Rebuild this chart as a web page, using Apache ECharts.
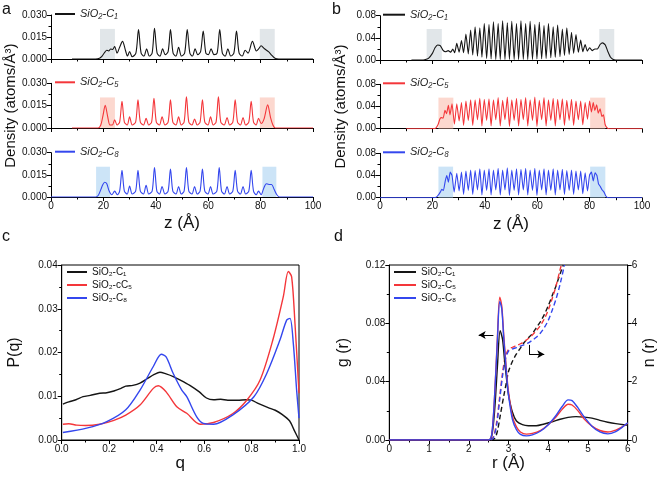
<!DOCTYPE html>
<html><head><meta charset="utf-8">
<script src="https://cdn.jsdelivr.net/npm/echarts@6/dist/echarts.min.js"></script>
<style>html,body{margin:0;padding:0;background:#fff}#c{width:661px;height:481px}</style>
</head><body><div id="c"></div>
<script>
// ---------- DATA ----------
// Panel a: density profiles, [z (Å), density]
const aC1 = [[8,0],[17,0],[18.5,0.0005],[19.5,0.002],[20.5,0.0045],[21.3,0.006],[22.0,0.0055],[22.8,0.0068],[23.5,0.0065],[24.3,0.0085],[25.2,0.004],[26.2,0.008],[27.3,0.012],[28.4,0.006],[29.2,0.002],[30.0,0.005],[31.0,0.0015],[32.4,0.004],[33.4,0.020],[34.4,0.004],[35.5,0.002],[36.5,0.007],[37.5,0.002],[38.6,0.004],[39.5,0.021],[40.5,0.004],[41.6,0.002],[42.6,0.007],[43.6,0.003],[44.7,0.005],[45.6,0.020],[46.6,0.004],[47.7,0.002],[48.7,0.008],[49.8,0.002],[51.0,0.004],[52.0,0.020],[53.0,0.004],[54.0,0.002],[55.0,0.007],[56.0,0.003],[57.1,0.005],[58.1,0.019],[59.1,0.004],[60.1,0.003],[61.1,0.007],[62.2,0.003],[63.4,0.004],[64.4,0.020],[65.4,0.004],[66.5,0.002],[67.5,0.007],[68.6,0.002],[69.8,0.004],[70.8,0.019],[71.8,0.004],[73.0,0.002],[74.1,0.006],[75.2,0.004],[76.9,0.012],[78.4,0.0055],[79.3,0.007],[80.2,0.009],[81.5,0.007],[83.0,0.005],[84.3,0.0025],[85.5,0.0005],[87,0],[100,0]];
const aC5 = [[8,0],[18,0],[19,0.002],[19.8,0.008],[20.7,0.0152],[21.6,0.008],[22.5,0.002],[23.4,0.002],[24.3,0.0055],[25.2,0.002],[26.2,0.004],[27.1,0.018],[28.0,0.004],[29.1,0.002],[30.0,0.0075],[31.0,0.002],[32.3,0.004],[33.2,0.019],[34.1,0.004],[35.3,0.002],[36.3,0.0065],[37.3,0.002],[38.4,0.004],[39.3,0.020],[40.2,0.004],[41.4,0.002],[42.4,0.0075],[43.5,0.002],[44.7,0.004],[45.6,0.019],[46.5,0.004],[47.7,0.002],[48.7,0.0075],[49.7,0.002],[50.8,0.004],[51.7,0.021],[52.6,0.004],[53.8,0.002],[54.8,0.006],[55.8,0.002],[56.9,0.004],[57.8,0.019],[58.7,0.004],[59.9,0.002],[60.9,0.0075],[61.9,0.002],[63.0,0.004],[63.9,0.021],[64.8,0.004],[66.1,0.002],[67.2,0.007],[68.2,0.002],[69.4,0.004],[70.3,0.019],[71.2,0.004],[72.3,0.002],[73.3,0.007],[74.3,0.002],[75.5,0.004],[76.4,0.018],[77.3,0.004],[78.3,0.002],[79.2,0.0065],[80.2,0.003],[81.3,0.006],[82.7,0.0155],[83.8,0.007],[84.7,0.002],[85.6,0],[100,0]];
const aC8 = [[0,0],[17,0],[18,0.001],[19,0.005],[19.8,0.0085],[20.5,0.010],[21.3,0.009],[22.2,0.004],[23.2,0.0015],[24.3,0.004],[25.3,0.0015],[26.2,0.004],[27.1,0.018],[28.0,0.004],[29.1,0.002],[30.0,0.0075],[31.0,0.002],[32.3,0.004],[33.2,0.018],[34.1,0.004],[35.3,0.002],[36.3,0.008],[37.3,0.002],[38.6,0.004],[39.5,0.020],[40.4,0.004],[41.4,0.002],[42.4,0.007],[43.5,0.002],[44.7,0.004],[45.6,0.019],[46.5,0.004],[47.7,0.002],[48.7,0.007],[49.7,0.002],[50.8,0.004],[51.7,0.020],[52.6,0.004],[53.8,0.002],[54.8,0.007],[55.8,0.002],[56.9,0.004],[57.8,0.019],[58.7,0.004],[59.9,0.002],[60.9,0.007],[61.9,0.002],[63.3,0.004],[64.2,0.020],[65.1,0.004],[66.2,0.002],[67.2,0.007],[68.2,0.002],[69.4,0.004],[70.3,0.018],[71.2,0.004],[72.3,0.002],[73.3,0.007],[74.3,0.002],[75.5,0.004],[76.4,0.018],[77.3,0.004],[78.3,0.0015],[79.2,0.004],[80.2,0.0015],[81.2,0.006],[82.2,0.009],[83.2,0.0085],[84.2,0.0085],[85.2,0.005],[86.2,0.0015],[87.2,0],[100,0]];
// Panel b: density profiles, [z (Å), density]
const bC1 = [[12,0],[16,0],[17,0.0005],[18.5,0.003],[20,0.012],[21,0.022],[22,0.027],[23,0.026],[24,0.018],[25,0.015],[26,0.017],[27,0.014],[27.8,0.02],[28.5,0.013],[29.3,0.030],[30.2,0.014],[31.1,0.035],[31.9,0.013],[32.8,0.047],[33.7,0.011],[34.6,0.054],[35.4,0.009],[36.3,0.060],[37.2,0.007],[38.1,0.058],[38.9,0.005],[39.8,0.066],[40.7,0.003],[41.6,0.064],[42.4,0.002],[43.3,0.069],[44.2,0.001],[45.1,0.066],[45.9,0.001],[46.8,0.071],[47.7,0.001],[48.6,0.067],[49.4,0.001],[50.3,0.070],[51.2,0.001],[52.1,0.066],[52.9,0.001],[53.8,0.071],[54.7,0.001],[55.6,0.066],[56.4,0.001],[57.3,0.070],[58.2,0.001],[59.1,0.064],[59.9,0.002],[60.8,0.068],[61.7,0.002],[62.6,0.062],[63.4,0.003],[64.3,0.066],[65.2,0.004],[66.1,0.060],[66.9,0.005],[67.8,0.063],[68.7,0.006],[69.6,0.056],[70.4,0.008],[71.3,0.058],[72.2,0.010],[73.1,0.050],[73.9,0.012],[74.8,0.046],[75.7,0.014],[76.6,0.036],[77.4,0.015],[78.3,0.028],[79.1,0.016],[80,0.022],[81,0.017],[82,0.020],[83,0.020],[84,0.028],[85,0.031],[86,0.027],[87,0.015],[88,0.005],[89,0.001],[90,0],[100,0]];
const bC5 = [[10,0],[20,0],[21.3,0.001],[22.2,0.008],[22.9,0.018],[23.5,0.020],[24.1,0.019],[24.8,0.033],[25.4,0.027],[26.1,0.042],[26.7,0.025],[27.5,0.045],[28.4,0.008],[29.3,0.045],[30.2,0.014],[31.1,0.047],[31.9,0.006],[32.8,0.050],[33.7,0.015],[34.6,0.052],[35.4,0.006],[36.3,0.052],[37.2,0.016],[38.1,0.055],[38.9,0.005],[39.8,0.053],[40.7,0.015],[41.6,0.054],[42.4,0.005],[43.3,0.052],[44.2,0.016],[45.1,0.056],[45.9,0.005],[46.8,0.051],[47.7,0.016],[48.6,0.057],[49.4,0.004],[50.3,0.052],[51.2,0.015],[52.1,0.055],[52.9,0.005],[53.8,0.053],[54.7,0.016],[55.6,0.056],[56.4,0.005],[57.3,0.052],[58.2,0.015],[59.1,0.057],[59.9,0.004],[60.8,0.051],[61.7,0.016],[62.6,0.056],[63.4,0.005],[64.3,0.052],[65.2,0.015],[66.1,0.055],[66.9,0.005],[67.8,0.053],[68.7,0.016],[69.6,0.054],[70.4,0.006],[71.3,0.051],[72.2,0.015],[73.1,0.053],[73.9,0.006],[74.8,0.050],[75.7,0.016],[76.6,0.050],[77.4,0.007],[78.3,0.047],[79.2,0.017],[80.0,0.050],[80.7,0.030],[81.4,0.047],[82.0,0.033],[82.7,0.043],[83.3,0.028],[84.0,0.036],[84.7,0.022],[85.3,0.025],[85.9,0.008],[86.6,0.002],[87.5,0],[100,0]];
const bC8 = [[0,0],[20.5,0],[21.5,0.001],[22.3,0.005],[23.0,0.010],[23.6,0.015],[24.2,0.013],[24.9,0.030],[25.5,0.040],[26.1,0.028],[26.8,0.046],[27.5,0.040],[28.3,0.010],[29.3,0.044],[30.2,0.012],[31.1,0.046],[31.9,0.006],[32.8,0.048],[33.7,0.013],[34.6,0.050],[35.4,0.006],[36.3,0.049],[37.2,0.014],[38.1,0.052],[38.9,0.005],[39.8,0.050],[40.7,0.013],[41.6,0.052],[42.4,0.005],[43.3,0.050],[44.2,0.014],[45.1,0.053],[45.9,0.005],[46.8,0.050],[47.7,0.014],[48.6,0.054],[49.4,0.004],[50.3,0.050],[51.2,0.013],[52.1,0.052],[52.9,0.005],[53.8,0.051],[54.7,0.014],[55.6,0.053],[56.4,0.005],[57.3,0.050],[58.2,0.013],[59.1,0.053],[59.9,0.004],[60.8,0.050],[61.7,0.014],[62.6,0.052],[63.4,0.005],[64.3,0.050],[65.2,0.013],[66.1,0.052],[66.9,0.005],[67.8,0.050],[68.7,0.014],[69.6,0.051],[70.4,0.006],[71.3,0.049],[72.2,0.013],[73.1,0.050],[73.9,0.006],[74.8,0.048],[75.7,0.014],[76.6,0.048],[77.4,0.007],[78.3,0.045],[79.2,0.012],[80.0,0.041],[80.7,0.046],[81.4,0.030],[82.1,0.045],[82.8,0.040],[83.4,0.025],[84.1,0.020],[84.8,0.014],[85.5,0.010],[86.2,0.003],[87,0],[100,0]];
// Shaded interface regions [zStart, zEnd] and their top value
const aShade = [[[18.7,24.4],[79.7,85.4]], [[18.7,24.4],[79.7,85.4]], [[17.2,22.5],[80.7,86.0]]];
const aShadeTop = 0.0205;
const bShade = [[[17.8,23.6],[83.7,89.4]], [[22.3,28.0],[80.2,86.0]], [[22.3,27.9],[80.2,86.0]]];
const bShadeTop = 0.056;
// Panel c: P(q), [q, P]
const cC1 = [[0.005,0.0082],[0.03,0.0087],[0.06,0.0092],[0.09,0.0099],[0.12,0.0102],[0.16,0.0107],[0.19,0.0108],[0.22,0.0112],[0.25,0.0118],[0.27,0.0123],[0.3,0.0125],[0.33,0.013],[0.36,0.014],[0.39,0.015],[0.414,0.0155],[0.44,0.0151],[0.47,0.0145],[0.5,0.0137],[0.54,0.0125],[0.58,0.011],[0.61,0.0096],[0.64,0.0092],[0.67,0.0093],[0.7,0.0091],[0.74,0.0091],[0.78,0.0092],[0.8,0.0091],[0.83,0.0083],[0.87,0.0074],[0.9,0.0068],[0.93,0.0058],[0.96,0.0044],[0.98,0.0022],[1.0,0.0]];
const cC5 = [[0.005,0.0036],[0.03,0.0037],[0.063,0.0034],[0.1,0.0033],[0.16,0.0036],[0.22,0.0045],[0.27,0.0057],[0.33,0.008],[0.386,0.0118],[0.407,0.0124],[0.44,0.011],[0.485,0.0076],[0.527,0.0061],[0.583,0.0036],[0.64,0.004],[0.72,0.006],[0.78,0.0091],[0.836,0.0137],[0.89,0.0229],[0.934,0.0328],[0.955,0.0385],[0.969,0.0373],[0.983,0.0267],[1.0,0.0107]];
const cC8 = [[0.005,0.0017],[0.105,0.0027],[0.19,0.0042],[0.27,0.0069],[0.33,0.0114],[0.386,0.0168],[0.42,0.0196],[0.44,0.019],[0.47,0.0152],[0.506,0.0114],[0.527,0.0099],[0.569,0.0053],[0.597,0.0038],[0.64,0.0036],[0.72,0.0057],[0.81,0.0099],[0.864,0.0152],[0.92,0.0229],[0.948,0.0274],[0.962,0.0278],[0.976,0.0221],[0.99,0.0114],[1.0,0.005]];
// Panel d: g(r) and n(r), [r (Å), value]
const dG1 = [[0,0],[2.5,0],[2.58,0.003],[2.65,0.02],[2.72,0.05],[2.79,0.075],[2.85,0.069],[2.9,0.055],[2.95,0.042],[3.0,0.031],[3.1,0.019],[3.2,0.013],[3.35,0.0105],[3.5,0.0098],[3.7,0.0098],[3.9,0.011],[4.1,0.0125],[4.3,0.0142],[4.5,0.0155],[4.7,0.016],[4.9,0.0157],[5.1,0.015],[5.3,0.0135],[5.5,0.0122],[5.7,0.0112],[5.9,0.0105],[6.0,0.0103]];
const dG5 = [[0,0],[2.5,0],[2.58,0.004],[2.65,0.03],[2.72,0.07],[2.78,0.098],[2.83,0.092],[2.88,0.072],[2.95,0.047],[3.0,0.033],[3.1,0.016],[3.2,0.009],[3.3,0.0055],[3.45,0.004],[3.6,0.0045],[3.8,0.0065],[4.0,0.0105],[4.2,0.016],[4.35,0.021],[4.5,0.0245],[4.6,0.024],[4.75,0.02],[4.9,0.0145],[5.1,0.0095],[5.3,0.0065],[5.5,0.0055],[5.7,0.0068],[5.85,0.0088],[6.0,0.0115]];
const dG8 = [[0,0],[2.5,0],[2.58,0.004],[2.65,0.03],[2.72,0.068],[2.78,0.095],[2.83,0.09],[2.88,0.07],[2.95,0.045],[3.0,0.031],[3.1,0.014],[3.2,0.007],[3.3,0.0038],[3.45,0.0028],[3.6,0.0035],[3.8,0.006],[4.0,0.0105],[4.2,0.017],[4.35,0.023],[4.5,0.0275],[4.6,0.027],[4.75,0.022],[4.9,0.016],[5.1,0.0095],[5.3,0.0055],[5.5,0.0042],[5.7,0.0058],[5.85,0.0085],[6.0,0.0118]];
const dN1 = [[2.55,0],[2.65,0.05],[2.72,0.3],[2.8,0.9],[2.88,1.5],[2.95,2.0],[3.0,2.35],[3.1,2.7],[3.2,2.95],[3.3,3.15],[3.4,3.35],[3.5,3.5],[3.6,3.65],[3.7,3.85],[3.8,4.05],[3.9,4.3],[4.0,4.6],[4.1,4.95],[4.2,5.3],[4.3,5.7],[4.38,6.0]];
const dN5 = [[2.55,0],[2.62,0.1],[2.7,0.6],[2.78,1.5],[2.85,2.3],[2.92,2.85],[3.0,3.1],[3.1,3.18],[3.2,3.24],[3.3,3.3],[3.4,3.38],[3.5,3.48],[3.6,3.6],[3.7,3.75],[3.8,3.92],[3.9,4.15],[4.0,4.45],[4.1,4.85],[4.2,5.3],[4.3,5.85],[4.33,6.0]];
const dN8 = [[2.55,0],[2.62,0.08],[2.7,0.5],[2.78,1.4],[2.85,2.2],[2.92,2.75],[3.0,3.05],[3.1,3.12],[3.2,3.17],[3.3,3.22],[3.4,3.27],[3.5,3.33],[3.6,3.42],[3.7,3.52],[3.8,3.66],[3.9,3.85],[4.0,4.1],[4.1,4.45],[4.2,4.85],[4.3,5.35],[4.4,5.95],[4.41,6.0]];
// Labels
const abLabels = ['SiO₂-C₁', 'SiO₂-C₅', 'SiO₂-C₈'];
const cLabels = ['SiO₂-C₁', 'SiO₂-cC₅', 'SiO₂-C₈'];
const dLabels = ['SiO₂-C₁', 'SiO₂-C₅', 'SiO₂-C₈'];
const panelLetters = ['a', 'b', 'c', 'd'];

// ---------- STYLE ----------
const FONT = '"Liberation Sans", Arial, sans-serif';
const COLORS = ['#151515', '#f4363a', '#3447ee'];
const SHADES = ['rgba(195,205,212,0.5)', 'rgba(250,190,175,0.6)', 'rgba(170,210,242,0.6)'];

const gridPos = [
  {left:51, top:15, width:262, height:44},
  {left:51, top:83.3, width:262, height:44.7},
  {left:51, top:152.7, width:262, height:44.3},
  {left:380, top:15.7, width:262, height:44.3},
  {left:380, top:84.3, width:262, height:44.4},
  {left:380, top:153.3, width:262, height:44.4},
  {left:61.7, top:265, width:237.3, height:175},
  {left:389.3, top:265, width:238.4, height:175}
];

function axisCommon(showLabel, fmt) {
  return {
    axisLine: {show:true, onZero:false, lineStyle:{color:'#000', width:1}},
    axisTick: {show:true, length:4, lineStyle:{color:'#000'}},
    minorTick: {show:true, splitNumber:2, length:2.5, lineStyle:{color:'#000'}},
    splitLine: {show:false},
    axisLabel: {show:showLabel, fontSize:10, color:'#111', fontFamily:FONT, margin:4, formatter: fmt}
  };
}
const nameStyle = (fs) => ({fontSize:fs, color:'#111', fontFamily:FONT});

const grids = gridPos.map((g, i) => Object.assign({
  outerBoundsMode:'none', containLabel:false,
  show: i >= 6, borderColor:'#000', borderWidth:1, backgroundColor:'transparent'
}, g));

const xAxes = [], yAxes = [];
for (let i = 0; i < 6; i++) {
  const bottom = (i === 2 || i === 5);
  xAxes.push(Object.assign({type:'value', gridIndex:i, min:0, max:100, interval:20,
    name: bottom ? 'z (Å)' : '', nameLocation:'middle', nameGap:18, nameTextStyle:nameStyle(17)},
    axisCommon(bottom, v => String(v))));
  const isA = i < 3;
  yAxes.push(Object.assign({type:'value', gridIndex:i, min:0, max: isA ? 0.03 : 0.08, interval: isA ? 0.015 : 0.04,
    name: (i === 1 || i === 4) ? 'Density (atoms/Å³)' : '', nameLocation:'middle', nameGap: isA ? 33 : 32,
    nameTextStyle:nameStyle(15)},
    axisCommon(true, v => v.toFixed(isA ? 3 : 2))));
}
// panel c
xAxes.push(Object.assign({type:'value', gridIndex:6, min:0, max:1, interval:0.2, name:'q', nameLocation:'middle', nameGap:15, nameTextStyle:nameStyle(17)},
  axisCommon(true, v => v.toFixed(1))));
yAxes.push(Object.assign({type:'value', gridIndex:6, min:0, max:0.04, interval:0.01, name:'P(q)', nameLocation:'middle', nameGap:39, nameTextStyle:nameStyle(16)},
  axisCommon(true, v => v.toFixed(2))));
// panel d
xAxes.push(Object.assign({type:'value', gridIndex:7, min:0, max:6, interval:1, name:'r (Å)', nameLocation:'middle', nameGap:15, nameTextStyle:nameStyle(17)},
  axisCommon(true, v => String(v))));
yAxes.push(Object.assign({type:'value', gridIndex:7, min:0, max:0.12, interval:0.04, name:'g (r)', nameLocation:'middle', nameGap:38, nameTextStyle:nameStyle(16)},
  axisCommon(true, v => v.toFixed(2))));
yAxes.push(Object.assign({type:'value', gridIndex:7, position:'right', min:0, max:6, interval:2, name:'n (r)', nameLocation:'middle', nameGap:14, nameTextStyle:nameStyle(16)},
  axisCommon(true, v => String(v))));

const series = [], legends = [];
const LABEL = {};
const abData = [aC1, aC5, aC8, bC1, bC5, bC8];
for (let i = 0; i < 6; i++) {
  const k = i % 3, isA = i < 3;
  const nm = (isA ? 'a' : 'b') + k;
  LABEL[nm] = abLabels[k];
  const shade = isA ? aShade[k] : bShade[k];
  const top = isA ? aShadeTop : bShadeTop;
  series.push({
    name:nm, type:'line', xAxisIndex:i, yAxisIndex:i, data:abData[i], showSymbol:false,
    smooth: isA ? 0.3 : 0.15, color:COLORS[k], lineStyle:{width:1.1, color:COLORS[k]},
    markArea:{silent:true, itemStyle:{color:SHADES[k]},
      data: shade.map(s => [{xAxis:s[0], yAxis:0}, {xAxis:s[1], yAxis:top}])}
  });
  legends.push({data:[nm], left: isA ? 55 : 383, top: gridPos[i].top - 6.5, itemWidth: isA ? 20 : 22, itemHeight:2,
    icon:'rect', padding:0, selectedMode:false,
    textStyle:{fontSize:11, fontStyle:'italic', color:'#222', fontFamily:FONT},
    formatter: n => LABEL[n]});
}
const cData = [cC1, cC5, cC8];
const cNames = [];
for (let k = 0; k < 3; k++) {
  const nm = 'c' + k; LABEL[nm] = cLabels[k]; cNames.push(nm);
  series.push({name:nm, type:'line', xAxisIndex:6, yAxisIndex:6, data:cData[k], showSymbol:false, smooth:0.3,
    color:COLORS[k], lineStyle:{width:1.4, color:COLORS[k]}});
}
legends.push({data:cNames, orient:'vertical', left:67, top:267, itemWidth:20, itemHeight:2, itemGap:3, icon:'rect', padding:0,
  selectedMode:false, textStyle:{fontSize:10, color:'#111', fontFamily:FONT}, formatter: n => LABEL[n]});

const dG = [dG1, dG5, dG8], dN = [dN1, dN5, dN8];
const dNames = [];
for (let k = 0; k < 3; k++) {
  const nm = 'd' + k; LABEL[nm] = dLabels[k]; dNames.push(nm);
  const s = {name:nm, type:'line', xAxisIndex:7, yAxisIndex:7, data:dG[k], showSymbol:false, smooth:0.3,
    color:COLORS[k], lineStyle:{width:1.4, color:COLORS[k]}};
  if (k === 0) {
    s.markLine = {silent:true, symbol:['none','arrow'], symbolSize:[6,7], label:{show:false},
      lineStyle:{color:'#000', width:1, type:'solid'},
      data:[[{coord:[2.62,0.072]}, {coord:[2.25,0.072]}]]};
  }
  series.push(s);
  const n = {name:'n' + k, type:'line', xAxisIndex:7, yAxisIndex:8, data:dN[k], showSymbol:false, smooth:0.3,
    color:COLORS[k], lineStyle:{width:1.4, color:COLORS[k], type:[5,3]}, z:1};
  if (k === 0) {
    n.markLine = {silent:true, symbol:['none','none'], label:{show:false},
      lineStyle:{color:'#000', width:1, type:'solid'},
      data:[[{coord:[3.52,3.26]}, {coord:[3.52,2.94]}],
            [{coord:[3.52,2.94]}, {coord:[3.9,2.94], symbol:'arrow', symbolSize:[6,7]}]]};
  }
  series.push(n);
}
legends.push({data:dNames, orient:'vertical', left:394, top:267, itemWidth:22, itemHeight:2, itemGap:3, icon:'rect', padding:0,
  selectedMode:false, textStyle:{fontSize:10, color:'#111', fontFamily:FONT}, formatter: n => LABEL[n]});

const letterPos = [[2,2],[332,2],[2,229],[334,229]];
const graphic = panelLetters.map((t, i) => ({type:'text', left:letterPos[i][0], top:letterPos[i][1],
  style:{text:t, fontSize:16, fill:'#111', fontFamily:FONT}}));

const chart = echarts.init(document.getElementById('c'), null, {renderer:'canvas'});
chart.setOption({
  animation:false, backgroundColor:'#fff',
  grid:grids, xAxis:xAxes, yAxis:yAxes, series:series, legend:legends, graphic:graphic
});
</script></body></html>
